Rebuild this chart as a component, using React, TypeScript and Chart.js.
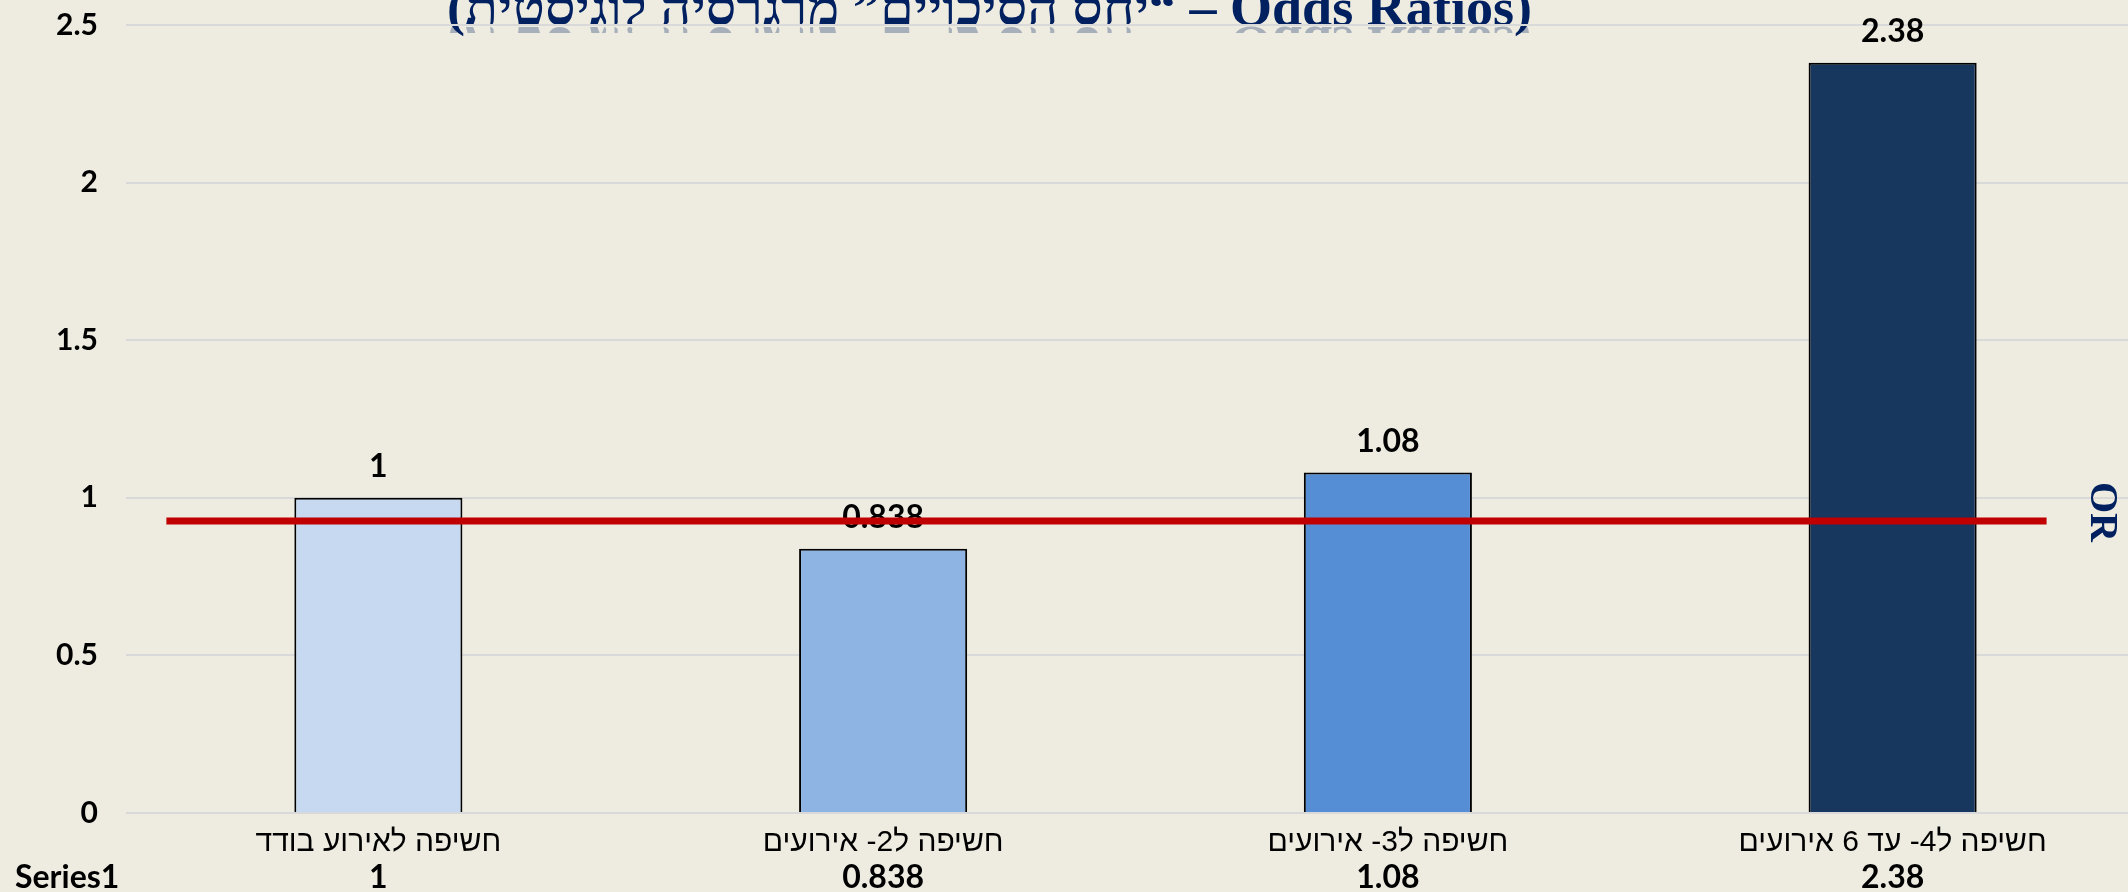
import { useEffect, useRef } from 'react';
import { Chart, registerables } from 'chart.js';

Chart.register(...registerables);

// ---- data ----
const categories = [
  'חשיפה לאירוע בודד',
  'חשיפה ל2- אירועים',
  'חשיפה ל3- אירועים',
  'חשיפה ל4- עד 6 אירועים',
];
const oddsRatios = [1, 0.838, 1.08, 2.38];
const barColors = ['#C6D9F1', '#8EB4E3', '#558ED5', '#17375E'];
const seriesName = 'Series1';
const yMin = 0;
const yMax = 2.5;
const yStep = 0.5;
const refLineValue = 0.926;
const refLineFrom = -0.42; // category-index units
const refLineTo = 3.305;
const titleText = '(\u200F“יחס הסיכויים” מרגרסיה לוגיסטית – Odds Ratios)';
const sideTitle = 'OR';

// ---- style ----
const W = 2145;
const H = 892;
const BG = '#EEECE1';
const NAVY = '#002060';
const NUM_FONT = 'Lato, "DejaVu Sans", sans-serif';
const CAT_FONT = '"Liberation Sans", Arial, sans-serif';
const SERIF = '"Liberation Serif", "Times New Roman", serif';

const fmt = (v: number) => String(v);

const overlayPlugin = {
  id: 'overlay',
  beforeDraw(chart: any) {
    const ctx = chart.ctx;
    ctx.save();
    ctx.fillStyle = BG;
    ctx.fillRect(0, 0, chart.width, chart.height);
    // title (clipped at top like the reference)
    ctx.font = `bold 52px ${SERIF}`;
    ctx.textAlign = 'left';
    ctx.textBaseline = 'alphabetic';
    (ctx as any).direction = 'ltr';
    const targetW = 1085;
    const mw = ctx.measureText(titleText).width;
    const sx = targetW / mw;
    const baseY = 25;
    // faint reflection below the title
    ctx.save();
    ctx.beginPath();
    ctx.rect(0, baseY + 1, chart.width, 7);
    ctx.clip();
    ctx.globalAlpha = 0.3;
    ctx.fillStyle = NAVY;
    ctx.translate(447, baseY + 2);
    ctx.scale(sx, -1);
    ctx.fillText(titleText, 0, 0);
    ctx.restore();
    // title text
    ctx.fillStyle = NAVY;
    ctx.translate(447, baseY);
    ctx.scale(sx, 1);
    ctx.fillText(titleText, 0, 0);
    ctx.restore();
  },
  afterDatasetsDraw(chart: any) {
    const ctx = chart.ctx;
    const xs = chart.scales.x;
    const ys = chart.scales.y;
    const meta = chart.getDatasetMeta(0);
    ctx.save();
    // value labels above bars
    ctx.font = `bold 32px ${NUM_FONT}`;
    ctx.fillStyle = '#000';
    ctx.textAlign = 'center';
    ctx.textBaseline = 'alphabetic';
    meta.data.forEach((bar: any, i: number) => {
      ctx.fillText(fmt(oddsRatios[i]), bar.x, bar.y - 21);
    });
    // red reference line
    const yy = ys.getPixelForValue(refLineValue);
    ctx.strokeStyle = '#C00000';
    ctx.lineWidth = 7;
    ctx.beginPath();
    ctx.moveTo(xs.getPixelForValue(refLineFrom), yy);
    ctx.lineTo(xs.getPixelForValue(refLineTo), yy);
    ctx.stroke();
    // data table row
    ctx.font = `bold 32px ${NUM_FONT}`;
    ctx.fillStyle = '#000';
    ctx.textAlign = 'left';
    ctx.fillText(seriesName, 15, 888);
    ctx.textAlign = 'center';
    oddsRatios.forEach((v, i) => {
      ctx.fillText(fmt(v), xs.getPixelForValue(i), 888);
    });
    // right-side rotated title
    ctx.translate(2101, 512);
    ctx.rotate(Math.PI / 2);
    ctx.font = `bold 40px ${SERIF}`;
    ctx.fillStyle = NAVY;
    ctx.textAlign = 'center';
    ctx.textBaseline = 'middle';
    ctx.fillText(sideTitle, 0, 0);
    ctx.restore();
  },
};

export default function App() {
  const ref = useRef<HTMLCanvasElement | null>(null);
  useEffect(() => {
    if (!ref.current) return;
    const chart = new Chart(ref.current, {
      type: 'bar',
      data: {
        labels: categories,
        datasets: [
          {
            label: seriesName,
            data: oddsRatios,
            backgroundColor: barColors,
            borderColor: '#000000',
            borderWidth: 2,
            barPercentage: 0.333,
            categoryPercentage: 1,
          },
        ],
      },
      options: {
        responsive: false,
        animation: false,
        devicePixelRatio: 1,
        layout: { padding: { top: 25, left: 0, right: 0, bottom: 0 } },
        plugins: {
          legend: { display: false },
          tooltip: { enabled: false },
          title: { display: false },
        },
        scales: {
          x: {
            grid: { display: false },
            border: { display: false },
            ticks: {
              color: '#000',
              font: { family: CAT_FONT, size: 30 },
              padding: 4,
              maxRotation: 0,
              autoSkip: false,
            },
            afterFit(s: any) {
              s.height = 79;
              s.paddingLeft = 0;
              s.paddingRight = 0;
            },
          },
          y: {
            min: yMin,
            max: yMax,
            ticks: {
              stepSize: yStep,
              padding: 28,
              color: '#000',
              font: { family: NUM_FONT, size: 30, weight: 'bold' },
              callback: (v: any) => fmt(Number(v)),
            },
            grid: { color: '#D9D9D9', lineWidth: 2, drawTicks: false },
            border: { display: false },
            afterFit(s: any) {
              s.width = 126;
              s.paddingTop = 0;
              s.paddingBottom = 0;
            },
          },
        },
      },
      plugins: [overlayPlugin],
    } as any);
    return () => chart.destroy();
  }, []);
  return (
    <div
      style={{
        position: 'fixed',
        left: 0,
        top: 0,
        width: 2128,
        height: 892,
        overflow: 'hidden',
        background: BG,
      }}
    >
      <canvas ref={ref} width={W} height={H} style={{ display: 'block' }} />
    </div>
  );
}
